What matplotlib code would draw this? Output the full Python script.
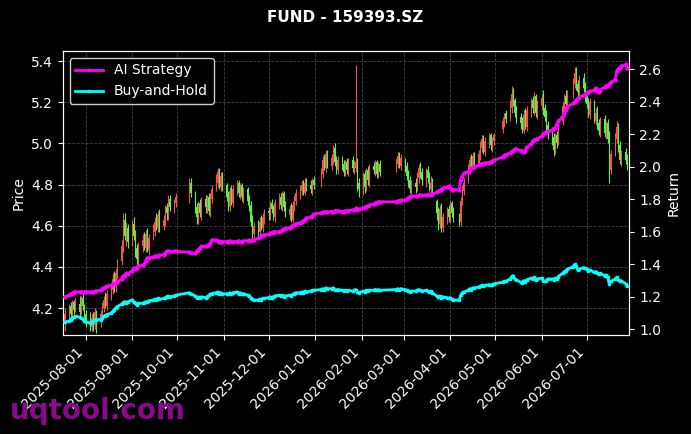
import matplotlib
matplotlib.use('Agg')
import matplotlib.pyplot as plt
import matplotlib.dates as mdates
import pandas as pd
import numpy as np

# ---------------- data ----------------
title = "FUND - 159393.SZ"
start_date = "2025-07-18"
end_date = "2026-07-28"
holidays = ["2025-10-01", "2025-10-02", "2025-10-03", "2025-10-06", "2025-10-07", "2025-10-08",
            "2026-01-01", "2026-01-02",
            "2026-02-16", "2026-02-17", "2026-02-18", "2026-02-19", "2026-02-20", "2026-02-23",
            "2026-04-06", "2026-05-01", "2026-05-04", "2026-05-05", "2026-06-19"]

opens = [
    4.13,
    4.16, 4.21, 4.18, 4.23, 4.19,
    4.22, 4.19, 4.25, 4.20, 4.17,
    4.15, 4.11, 4.16, 4.12, 4.18,
    4.13, 4.18, 4.20, 4.25, 4.21,
    4.26, 4.29, 4.35, 4.30, 4.36,
    4.43, 4.49, 4.63, 4.54, 4.59,
    4.53, 4.61, 4.56, 4.49, 4.43,
    4.50, 4.54, 4.49, 4.57, 4.48,
    4.55, 4.57, 4.63, 4.59, 4.66,
    4.60, 4.62, 4.69, 4.65, 4.73,
    4.68, 4.71,
    4.73, 4.81,
    4.75, 4.69, 4.63, 4.71, 4.65,
    4.73, 4.68, 4.74, 4.66, 4.73,
    4.79, 4.81, 4.87, 4.79, 4.85,
    4.80, 4.75, 4.69, 4.78, 4.71,
    4.77, 4.81, 4.75, 4.80, 4.73,
    4.78, 4.73, 4.70, 4.63, 4.56,
    4.61, 4.57, 4.63, 4.59, 4.63,
    4.67, 4.65, 4.71, 4.69, 4.64,
    4.70, 4.74, 4.69, 4.76, 4.70,
    4.65, 4.69, 4.63, 4.69, 4.72,
    4.75, 4.77, 4.81, 4.76, 4.82,
    4.80, 4.77, 4.82,
    4.81, 4.85, 4.93, 4.88, 4.96,
    4.89, 4.92, 4.98, 4.92, 4.87,
    4.93, 4.90, 4.85, 4.91, 4.86,
    4.92, 4.87, 4.88, 4.91, 4.81,
    4.77, 4.85, 4.78, 4.87, 4.81,
    4.89, 4.86, 4.91, 4.84, 4.90,
    4.88, 4.90, 4.95, 4.89,
    4.92, 4.89, 4.85, 4.82, 4.77,
    4.81, 4.78, 4.83, 4.89, 4.86,
    4.81, 4.87, 4.84, 4.78, 4.82,
    4.72, 4.67, 4.61, 4.69, 4.59,
    4.63, 4.68, 4.63, 4.71, 4.67,
    4.65, 4.62, 4.71, 4.77,
    4.83, 4.87, 4.93, 4.89, 4.95,
    4.90, 4.94, 4.98, 5.03, 4.96,
    5.00, 5.04, 4.98, 5.01,
    5.07, 5.10, 5.15,
    5.13, 5.17, 5.25, 5.21, 5.16,
    5.13, 5.11, 5.06, 5.15, 5.08,
    5.15, 5.21, 5.16, 5.23, 5.14,
    5.18, 5.23, 5.17, 5.14, 5.09,
    5.06, 5.03, 4.96, 5.04, 5.01,
    5.11, 5.17, 5.23, 5.18,
    5.25, 5.29, 5.35, 5.29, 5.24,
    5.32, 5.28, 5.23, 5.20, 5.14,
    5.19, 5.11, 5.16, 5.10, 5.05,
    5.12, 5.04, 5.10, 5.03, 4.87,
    4.96, 5.02, 5.09, 4.99, 4.91,
    4.96, 4.93,
]

closes = [
    4.17,
    4.20, 4.17, 4.22, 4.19, 4.23,
    4.18, 4.24, 4.21, 4.17, 4.14,
    4.12, 4.15, 4.11, 4.18, 4.13,
    4.17, 4.21, 4.24, 4.22, 4.27,
    4.30, 4.34, 4.31, 4.37, 4.42,
    4.50, 4.62, 4.55, 4.58, 4.52,
    4.60, 4.55, 4.48, 4.44, 4.50,
    4.53, 4.50, 4.56, 4.49, 4.54,
    4.58, 4.62, 4.60, 4.65, 4.59,
    4.63, 4.68, 4.66, 4.72, 4.69,
    4.70, 4.74,
    4.80, 4.76,
    4.68, 4.64, 4.70, 4.66, 4.72,
    4.69, 4.73, 4.67, 4.74, 4.78,
    4.82, 4.86, 4.80, 4.84, 4.79,
    4.74, 4.70, 4.77, 4.72, 4.78,
    4.80, 4.76, 4.79, 4.74, 4.77,
    4.72, 4.69, 4.62, 4.57, 4.60,
    4.58, 4.62, 4.60, 4.64, 4.66,
    4.66, 4.70, 4.68, 4.65, 4.71,
    4.73, 4.70, 4.75, 4.69, 4.66,
    4.68, 4.64, 4.70, 4.73, 4.76,
    4.78, 4.80, 4.77, 4.81, 4.79,
    4.78, 4.81, 4.80,
    4.86, 4.92, 4.89, 4.95, 4.90,
    4.93, 4.97, 4.91, 4.88, 4.92,
    4.89, 4.86, 4.90, 4.87, 4.91,
    4.88, 4.90, 4.91, 4.80, 4.78,
    4.84, 4.79, 4.86, 4.82, 4.88,
    4.87, 4.90, 4.85, 4.89, 4.86,
    4.91, 4.94, 4.90, 4.93,
    4.88, 4.84, 4.81, 4.78, 4.80,
    4.79, 4.84, 4.88, 4.85, 4.82,
    4.86, 4.83, 4.79, 4.81, 4.77,
    4.66, 4.62, 4.68, 4.60, 4.64,
    4.67, 4.64, 4.70, 4.66, 4.63,
    4.61, 4.72, 4.78, 4.81,
    4.88, 4.92, 4.90, 4.94, 4.91,
    4.95, 4.99, 5.02, 4.97, 5.01,
    5.03, 4.99, 5.02, 5.04,
    5.11, 5.14, 5.12,
    5.18, 5.24, 5.20, 5.15, 5.12,
    5.10, 5.07, 5.14, 5.09, 5.16,
    5.20, 5.17, 5.22, 5.15, 5.19,
    5.22, 5.16, 5.13, 5.08, 5.05,
    5.02, 4.97, 5.03, 5.00, 5.08,
    5.18, 5.22, 5.19, 5.24,
    5.30, 5.34, 5.28, 5.25, 5.31,
    5.27, 5.22, 5.19, 5.15, 5.20,
    5.12, 5.15, 5.09, 5.06, 5.11,
    5.05, 5.09, 5.02, 4.88, 4.95,
    5.03, 5.08, 4.98, 4.92, 4.95,
    4.92, 4.88,
]

highs = [
    4.20,
    4.22, 4.23, 4.24, 4.24, 4.25,
    4.26, 4.26, 4.27, 4.22, 4.19,
    4.18, 4.17, 4.18, 4.20, 4.19,
    4.19, 4.23, 4.26, 4.28, 4.29,
    4.32, 4.37, 4.38, 4.39, 4.44,
    4.53, 4.66, 4.66, 4.62, 4.61,
    4.63, 4.64, 4.58, 4.51, 4.52,
    4.56, 4.57, 4.58, 4.59, 4.56,
    4.61, 4.64, 4.66, 4.67, 4.68,
    4.65, 4.70, 4.71, 4.75, 4.75,
    4.73, 4.76,
    4.83, 4.83,
    4.77, 4.71, 4.72, 4.73, 4.74,
    4.75, 4.75, 4.76, 4.76, 4.80,
    4.85, 4.88, 4.88, 4.86, 4.86,
    4.81, 4.77, 4.79, 4.80, 4.80,
    4.82, 4.82, 4.81, 4.81, 4.79,
    4.79, 4.75, 4.72, 4.65, 4.62,
    4.63, 4.64, 4.65, 4.66, 4.68,
    4.69, 4.72, 4.73, 4.70, 4.73,
    4.76, 4.76, 4.77, 4.77, 4.72,
    4.70, 4.71, 4.72, 4.75, 4.78,
    4.80, 4.82, 4.82, 4.83, 4.83,
    4.82, 4.83, 4.84,
    4.88, 4.94, 4.95, 4.97, 4.97,
    4.95, 4.99, 5.00, 4.94, 4.94,
    4.94, 4.92, 4.92, 4.93, 4.93,
    4.94, 4.92, 5.38, 4.93, 4.83,
    4.86, 4.87, 4.88, 4.89, 4.90,
    4.91, 4.92, 4.92, 4.91, 4.92,
    4.93, 4.96, 4.96, 4.95,
    4.93, 4.91, 4.87, 4.84, 4.82,
    4.83, 4.86, 4.90, 4.91, 4.88,
    4.88, 4.89, 4.86, 4.84, 4.83,
    4.73, 4.69, 4.70, 4.71, 4.66,
    4.69, 4.70, 4.72, 4.72, 4.69,
    4.66, 4.74, 4.80, 4.83,
    4.90, 4.94, 4.95, 4.96, 4.96,
    4.97, 5.01, 5.04, 5.04, 5.03,
    5.05, 5.05, 5.03, 5.05,
    5.13, 5.15, 5.16,
    5.21, 5.28, 5.27, 5.22, 5.18,
    5.15, 5.13, 5.16, 5.17, 5.18,
    5.22, 5.23, 5.25, 5.24, 5.21,
    5.24, 5.26, 5.19, 5.16, 5.11,
    5.08, 5.05, 5.05, 5.06, 5.10,
    5.20, 5.24, 5.26, 5.26,
    5.32, 5.37, 5.37, 5.31, 5.33,
    5.34, 5.30, 5.25, 5.22, 5.22,
    5.21, 5.17, 5.18, 5.12, 5.13,
    5.14, 5.11, 5.12, 5.06, 4.97,
    5.05, 5.11, 5.10, 5.01, 4.97,
    4.98, 4.95,
]

lows = [
    4.09,
    4.13, 4.15, 4.16, 4.17, 4.18,
    4.16, 4.17, 4.19, 4.15, 4.11,
    4.09, 4.09, 4.09, 4.10, 4.08,
    4.11, 4.16, 4.18, 4.20, 4.19,
    4.24, 4.27, 4.28, 4.28, 4.34,
    4.41, 4.47, 4.53, 4.50, 4.49,
    4.50, 4.53, 4.45, 4.40, 4.41,
    4.47, 4.48, 4.47, 4.47, 4.46,
    4.53, 4.55, 4.58, 4.57, 4.57,
    4.58, 4.60, 4.63, 4.63, 4.67,
    4.66, 4.69,
    4.71, 4.74,
    4.66, 4.61, 4.61, 4.64, 4.63,
    4.66, 4.66, 4.65, 4.64, 4.71,
    4.77, 4.79, 4.78, 4.77, 4.77,
    4.72, 4.67, 4.67, 4.70, 4.69,
    4.75, 4.74, 4.73, 4.72, 4.71,
    4.70, 4.67, 4.60, 4.54, 4.54,
    4.55, 4.55, 4.58, 4.57, 4.61,
    4.63, 4.63, 4.66, 4.63, 4.62,
    4.68, 4.68, 4.67, 4.67, 4.64,
    4.63, 4.62, 4.62, 4.67, 4.70,
    4.73, 4.75, 4.75, 4.75, 4.77,
    4.76, 4.75, 4.78,
    4.79, 4.83, 4.87, 4.86, 4.88,
    4.87, 4.90, 4.89, 4.85, 4.85,
    4.87, 4.84, 4.84, 4.85, 4.84,
    4.86, 4.85, 4.86, 4.77, 4.74,
    4.75, 4.76, 4.77, 4.80, 4.79,
    4.85, 4.84, 4.83, 4.83, 4.84,
    4.86, 4.88, 4.88, 4.87,
    4.86, 4.82, 4.79, 4.76, 4.75,
    4.76, 4.77, 4.81, 4.83, 4.80,
    4.79, 4.81, 4.77, 4.76, 4.75,
    4.63, 4.58, 4.59, 4.57, 4.57,
    4.61, 4.62, 4.62, 4.64, 4.62,
    4.60, 4.60, 4.70, 4.75,
    4.81, 4.85, 4.88, 4.88, 4.89,
    4.89, 4.92, 4.96, 4.95, 4.94,
    4.98, 4.97, 4.96, 4.99,
    5.05, 5.08, 5.10,
    5.11, 5.15, 5.18, 5.13, 5.10,
    5.07, 5.05, 5.05, 5.07, 5.06,
    5.13, 5.15, 5.14, 5.13, 5.12,
    5.16, 5.14, 5.11, 5.06, 5.02,
    4.99, 4.94, 4.95, 4.98, 4.99,
    5.09, 5.15, 5.17, 5.16,
    5.22, 5.27, 5.26, 5.23, 5.22,
    5.25, 5.20, 5.17, 5.13, 5.12,
    5.10, 5.09, 5.07, 5.04, 5.03,
    5.03, 5.02, 5.00, 4.81, 4.85,
    4.94, 5.00, 4.96, 4.90, 4.89,
    4.90, 4.87,
]

ai_strategy = [
    1.20,
    1.21, 1.22, 1.22, 1.23, 1.23,
    1.23, 1.23, 1.23, 1.23, 1.23,
    1.23, 1.23, 1.23, 1.235, 1.235,
    1.24, 1.25, 1.255, 1.26, 1.265,
    1.27, 1.28, 1.28, 1.285, 1.29,
    1.31, 1.33, 1.33, 1.345, 1.34,
    1.36, 1.375, 1.37, 1.38, 1.39,
    1.395, 1.40, 1.42, 1.44, 1.44,
    1.445, 1.45, 1.45, 1.45, 1.455,
    1.46, 1.47, 1.48, 1.48, 1.48,
    1.48, 1.48,
    1.475, 1.47,
    1.47, 1.48, 1.49, 1.50, 1.51,
    1.51, 1.515, 1.52, 1.53, 1.55,
    1.55, 1.545, 1.54, 1.54, 1.54,
    1.54, 1.54, 1.545, 1.54, 1.54,
    1.54, 1.545, 1.54, 1.54, 1.545,
    1.545, 1.55, 1.545, 1.55, 1.55,
    1.56, 1.57, 1.575, 1.58, 1.58,
    1.585, 1.59, 1.595, 1.60, 1.60,
    1.60, 1.605, 1.61, 1.62, 1.62,
    1.625, 1.63, 1.64, 1.645, 1.65,
    1.655, 1.66, 1.665, 1.675, 1.685,
    1.69, 1.70, 1.71,
    1.715, 1.72, 1.72, 1.72, 1.725,
    1.725, 1.725, 1.73, 1.73, 1.73,
    1.725, 1.725, 1.73, 1.73, 1.73,
    1.735, 1.735, 1.745, 1.735, 1.74,
    1.745, 1.75, 1.755, 1.76, 1.765,
    1.77, 1.775, 1.78, 1.785, 1.785,
    1.785, 1.79, 1.79, 1.795,
    1.795, 1.80, 1.81, 1.815, 1.82,
    1.82, 1.82, 1.825, 1.825, 1.825,
    1.825, 1.825, 1.83, 1.825, 1.83,
    1.845, 1.85, 1.855, 1.86, 1.87,
    1.875, 1.88, 1.87, 1.86, 1.86,
    1.86, 1.92, 1.94, 1.96,
    1.97, 1.98, 1.99, 2.00, 2.00,
    2.01, 2.015, 2.02, 2.02, 2.025,
    2.025, 2.03, 2.035, 2.04,
    2.06, 2.07, 2.075,
    2.085, 2.095, 2.10, 2.11, 2.11,
    2.10, 2.095, 2.09, 2.10, 2.12,
    2.14, 2.16, 2.165, 2.17, 2.17,
    2.19, 2.205, 2.21, 2.215, 2.22,
    2.225, 2.235, 2.24, 2.26, 2.28,
    2.31, 2.33, 2.35, 2.37,
    2.39, 2.40, 2.41, 2.42, 2.43,
    2.44, 2.445, 2.455, 2.46, 2.465,
    2.47, 2.485, 2.465, 2.46, 2.475,
    2.49, 2.50, 2.50, 2.51, 2.52,
    2.535, 2.59, 2.60, 2.61, 2.62,
    2.63, 2.61,
]

buy_and_hold = [
    1.045,
    1.05, 1.06, 1.07, 1.075, 1.08,
    1.075, 1.07, 1.065, 1.05, 1.045,
    1.04, 1.045, 1.05, 1.055, 1.06,
    1.06, 1.07, 1.08, 1.085, 1.09,
    1.10, 1.11, 1.12, 1.13, 1.14,
    1.155, 1.165, 1.17, 1.165, 1.17,
    1.18, 1.17, 1.16, 1.15, 1.16,
    1.16, 1.165, 1.17, 1.17, 1.175,
    1.18, 1.185, 1.18, 1.19, 1.185,
    1.19, 1.195, 1.20, 1.205, 1.20,
    1.205, 1.21,
    1.225, 1.22,
    1.205, 1.195, 1.20, 1.19, 1.20,
    1.195, 1.20, 1.21, 1.215, 1.22,
    1.225, 1.23, 1.22, 1.225, 1.215,
    1.22, 1.215, 1.225, 1.22, 1.225,
    1.23, 1.22, 1.225, 1.215, 1.22,
    1.21, 1.205, 1.195, 1.185, 1.18,
    1.18, 1.185, 1.18, 1.19, 1.19,
    1.195, 1.20, 1.195, 1.20, 1.205,
    1.21, 1.205, 1.21, 1.20, 1.205,
    1.21, 1.205, 1.215, 1.22, 1.225,
    1.225, 1.23, 1.225, 1.235, 1.23,
    1.235, 1.24, 1.24,
    1.245, 1.25, 1.245, 1.255, 1.25,
    1.25, 1.255, 1.245, 1.24, 1.245,
    1.24, 1.235, 1.24, 1.235, 1.24,
    1.235, 1.24, 1.245, 1.23, 1.225,
    1.235, 1.23, 1.24, 1.235, 1.24,
    1.24, 1.245, 1.24, 1.245, 1.24,
    1.245, 1.25, 1.245, 1.25,
    1.245, 1.24, 1.235, 1.23, 1.235,
    1.235, 1.24, 1.245, 1.24, 1.235,
    1.24, 1.235, 1.23, 1.235, 1.225,
    1.205, 1.20, 1.205, 1.195, 1.20,
    1.195, 1.19, 1.195, 1.185, 1.18,
    1.18, 1.21, 1.225, 1.23,
    1.24, 1.25, 1.245, 1.255, 1.255,
    1.26, 1.265, 1.27, 1.265, 1.27,
    1.275, 1.27, 1.275, 1.28,
    1.29, 1.295, 1.295,
    1.31, 1.325, 1.33, 1.31, 1.305,
    1.29, 1.285, 1.30, 1.29, 1.305,
    1.315, 1.31, 1.32, 1.305, 1.31,
    1.315, 1.30, 1.295, 1.30, 1.31,
    1.31, 1.305, 1.315, 1.31, 1.325,
    1.345, 1.355, 1.36, 1.37,
    1.385, 1.40, 1.39, 1.365, 1.37,
    1.38, 1.375, 1.37, 1.36, 1.365,
    1.35, 1.355, 1.345, 1.34, 1.345,
    1.33, 1.335, 1.32, 1.28, 1.295,
    1.31, 1.32, 1.305, 1.295, 1.30,
    1.28, 1.265,
]

# ---------------- build ----------------
dates = pd.bdate_range(start_date, end_date)
dates = dates[~dates.isin(pd.to_datetime(holidays))]
n = min(len(dates), len(opens), len(closes), len(highs), len(lows),
        len(ai_strategy), len(buy_and_hold))
dates = dates[:n]
o = np.array(opens[:n]); c = np.array(closes[:n])
h = np.maximum(np.array(highs[:n]), np.maximum(o, c))
l = np.minimum(np.array(lows[:n]), np.minimum(o, c))

plt.style.use('dark_background')
plt.rcParams['font.family'] = ['DejaVu Sans']

fig = plt.figure(figsize=(6.91, 4.34), dpi=100)
fig.patch.set_facecolor('black')
ax1 = fig.add_axes([0.0907, 0.2281, 0.82, 0.6544])
ax1.set_facecolor('black')

up_col = '#f25252'
dn_col = '#5ef04a'
cols = np.where(c >= o, up_col, dn_col)
ax1.vlines(dates, l, h, colors=cols, linewidth=0.8, zorder=2)
body = np.where(np.abs(c - o) < 0.004, 0.004, c - o)
ax1.bar(dates, body, bottom=o, width=0.75, color=cols, linewidth=0, zorder=2)

ax1.set_ylim(4.069, 5.449)
ax1.set_xlim(dates[0] - pd.Timedelta(days=1.3), dates[-1] + pd.Timedelta(days=1.4))
ax1.set_ylabel('Price', color='white', fontsize=10)
ax1.grid(True, color='#555555', linestyle='--', linewidth=0.6, alpha=0.8)
ax1.set_axisbelow(True)

ax1.xaxis.set_major_locator(mdates.MonthLocator(bymonthday=1))
ax1.xaxis.set_major_formatter(mdates.DateFormatter('%Y-%m-%d'))
plt.setp(ax1.get_xticklabels(), rotation=45, ha='right', fontsize=10)
ax1.tick_params(colors='white', labelsize=10)

ax2 = ax1.twinx()
ax2.plot(dates, ai_strategy[:n], color='#ff00ff', linewidth=2, marker='o',
         markersize=2, label='AI Strategy', zorder=3)
ax2.plot(dates, buy_and_hold[:n], color='#00ffff', linewidth=2, marker='s',
         markersize=2, label='Buy-and-Hold', zorder=3)
ax2.set_ylim(0.965, 2.713)
ax2.set_ylabel('Return', color='white', fontsize=10)
ax2.tick_params(colors='white', labelsize=10)
ax2.set_xlim(ax1.get_xlim())

for ax in (ax1, ax2):
    for s in ax.spines.values():
        s.set_color('white')

leg = ax2.legend(loc='upper left', fontsize=10, facecolor='black',
                 edgecolor='#cccccc', framealpha=1.0)
for t in leg.get_texts():
    t.set_color('white')

fig.suptitle(title, x=0.5, y=1 - 18 / 434, va='center', fontsize=11,
             fontweight='bold', color='white')
fig.text(10 / 691, 1 - 419 / 434, 'uqtool.com', fontsize=20, fontweight='bold',
         color='#8a0a8a', va='baseline', ha='left')

fig.savefig('out.png', dpi=100, facecolor='black')
